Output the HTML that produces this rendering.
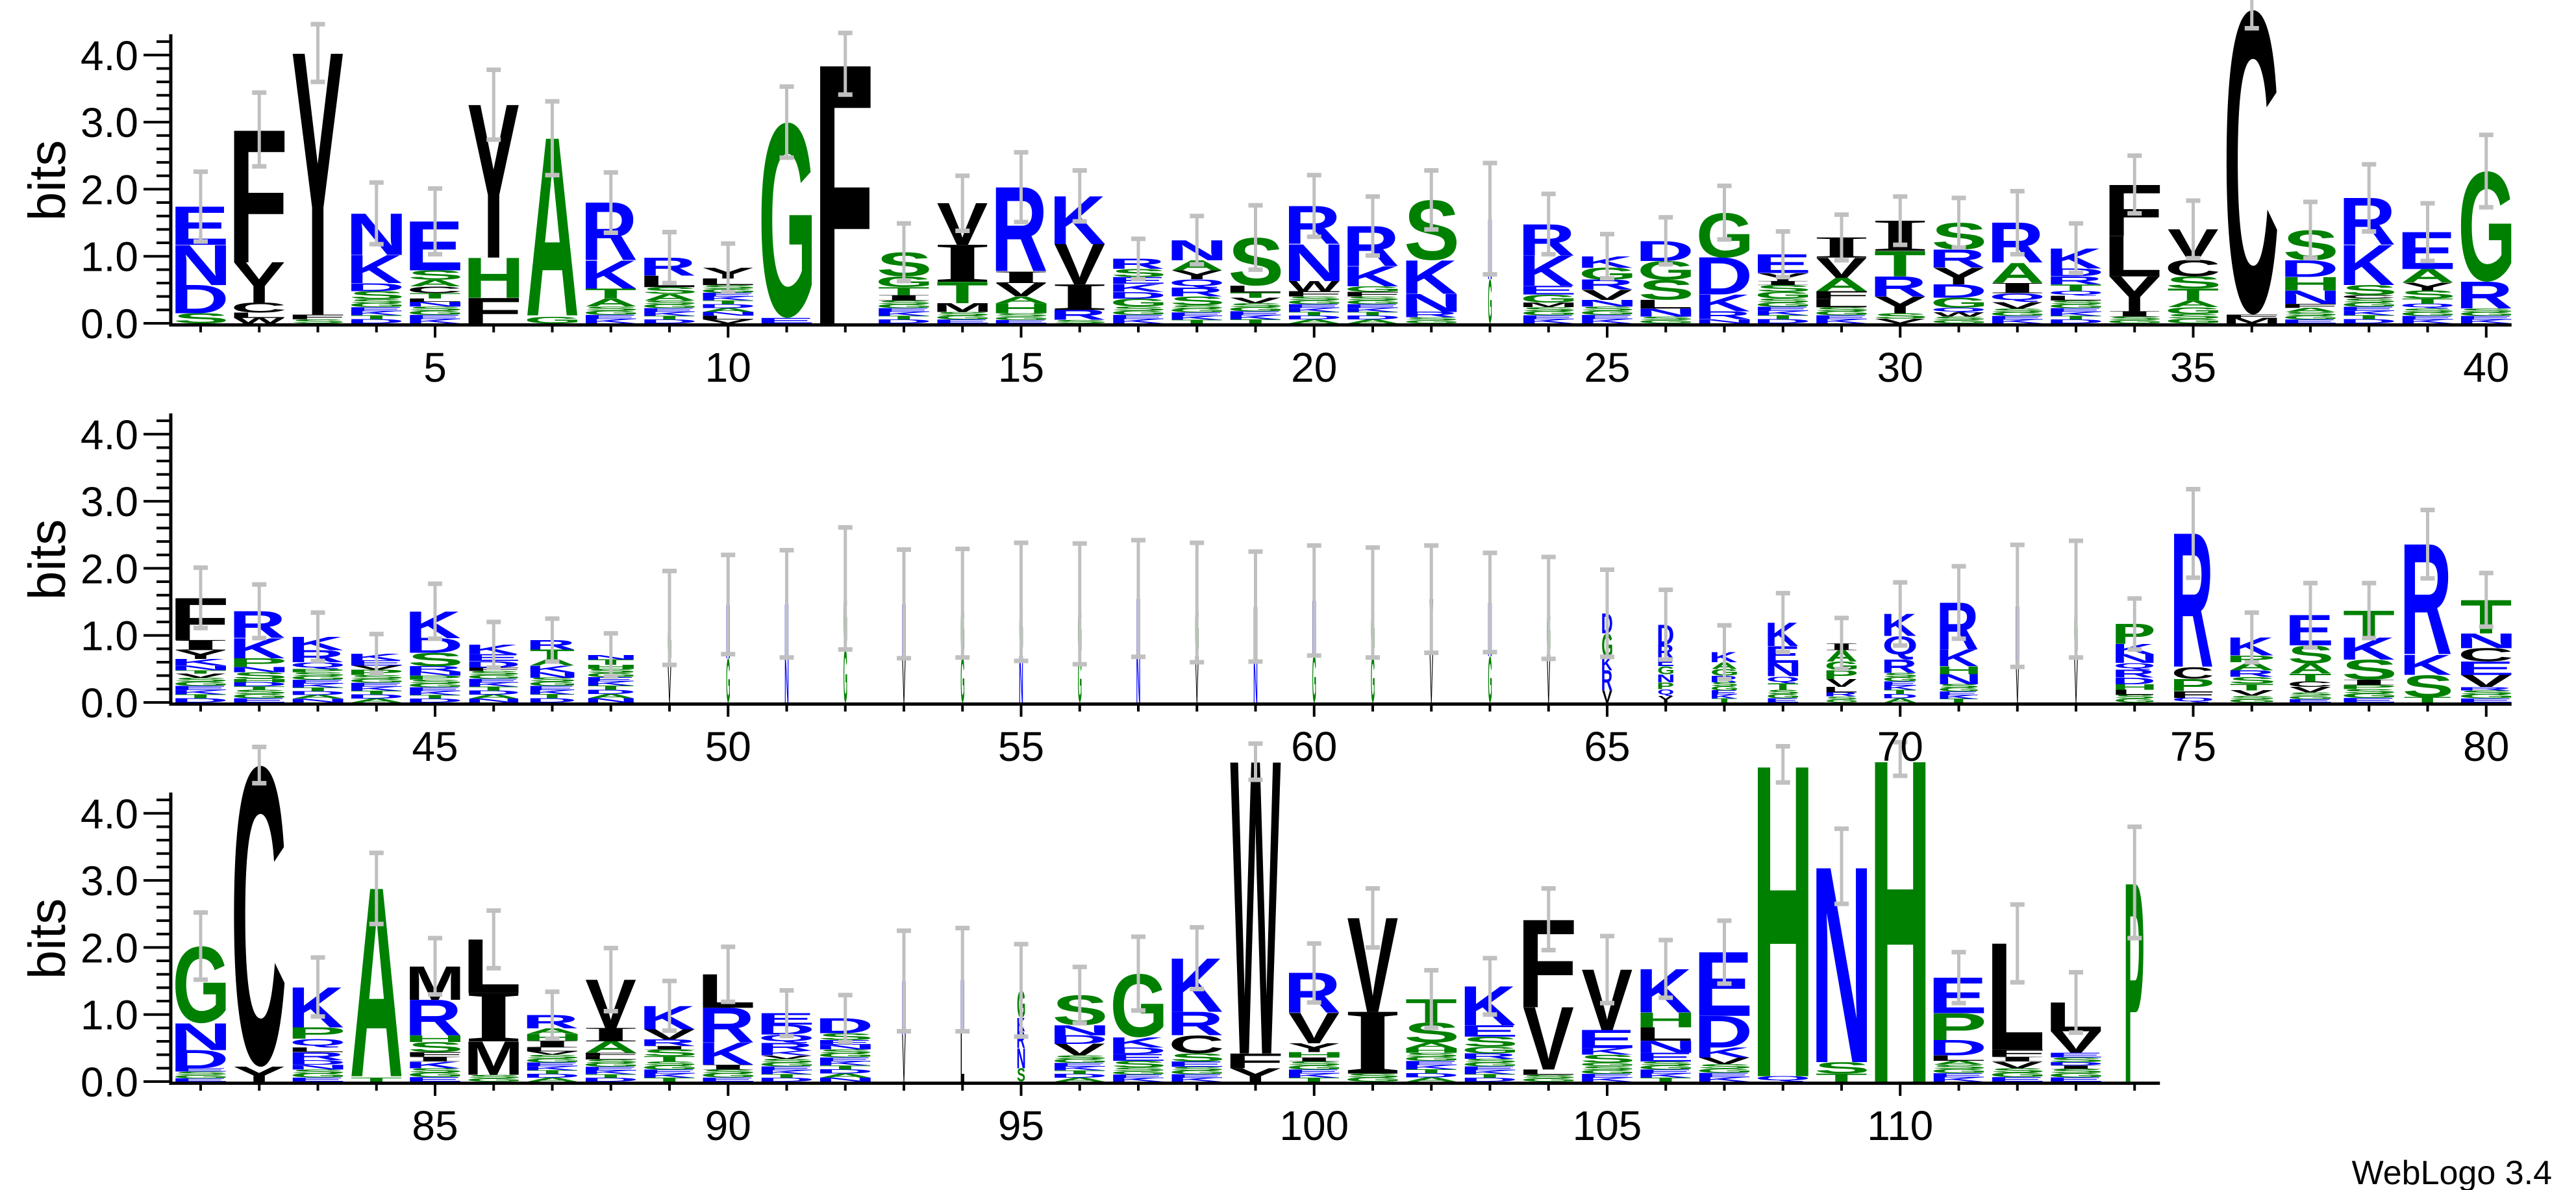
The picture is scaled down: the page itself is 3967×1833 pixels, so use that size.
<!DOCTYPE html>
<html><head><meta charset="utf-8"><style>
html,body{margin:0;padding:0;background:#fff;}
svg{display:block;}
text{font-family:"Liberation Sans",sans-serif;}
</style></head><body>
<svg id="logo" width="3967" height="1833" viewBox="0 0 3967 1833" xmlns="http://www.w3.org/2000/svg">
<rect x="0" y="0" width="3967" height="1833" fill="#fff"/>
<g id="marks"></g>
<g id="axes"></g>
<text x="3930" y="1824" font-size="52" text-anchor="end">WebLogo 3.4</text>
</svg>
<script>
// Letter stacks, listed from the top letter down. "~x" is leftover low-information residue.
const stacks = [
"E.57 N.6 D.42 S.15","F1.98 Y.6 C.15 L.08 W.08","Y3.9 F.07 ~.06","N.62 K.42 D.12 S.12 ~.36","E.73 S.14 A.1 C.1 T.08 L.05 N.07 ~.25",
"Y2.28 H.6 F.38","A2.66 G.1","R.86 K.42 T.15 A.12 ~.25","R.27 L.17 S.1 A.1 ~.34","Y.16 L.1 ~.57",
"G2.92 E.08","F3.87","S.36 G.16 T.12 I.08 ~.34","V.62 I.55 T.32 M.13 ~.17","R1.26 I.17 V.2 A.1 H.15 ~.15",
"K.72 V.6 I.38 R.15 ~.05","R.15 S.12 E.1 K.12 D.1 G.12 ~.25","N.3 A.15 Y.13 Q.13 R.13 S.13 ~.27","S.72 L.1 T.08 V.08 ~.3","R.57 N.55 W.15 F.08 ~.4",
"R.6 K.3 G.08 F.07 ~.4","S.9 K.5 N.27 R.08 ~.09","N.9 G.66","R.47 K.45 E.13 G.12 M.07 ~.24","K.17 G.18 R.15 V.15 N.1 ~.25",
"D.3 G.28 S.3 L.13 N.12 ~.1","G.67 D.55 K.25 R.12 N.06","E.28 Y.12 I.06 S.1 G.1 ~.37","I.3 V.3 A.2 F.12 L.12 ~.24","I.45 T.38 R.3 Y.25 S.08 V.07",
"S.4 R.27 Y.25 D.2 G.15 Q.07 W.06 ~.1","R.6 A.3 I.15 Q.13 V.1 ~.22","K.3 D.12 R.12 T.1 Q.07 L.07 ~.34","F.77 L.6 Y.52 I.08 ~.1","V.45 C.25 S.18 T.18 A.1 G.1 ~.14",
"C4.55 F.05 M.08","S.45 D.25 H.2 N.2 F.06 A.06 ~.17","R.7 K.6 S.15 C.05 ~.37","E.55 A.2 Y.12 S.12 T.08 Q.07 ~.22","G1.65 R.4 ~.22",
"F.63 I.15 Y.13 K.1 N.07 T.05 V.06 ~.37","R.4 K.3 P.13 N.08 S.1 H.05 D.06 T.05 ~.19","K.2 R.18 Q.1 P.05 ~.45","K.1 E.08 V.06 P.08 ~.41","K.4 D.22 S.2 R.08 N.06 P.06 ~.34",
"K.14 E.1 D.1 F.05 ~.47","R.14 T.14 A.1 K.1 N.08 ~.37","N.07 T.08 H.06 ~.5","G.7 V.56","N.8 G.66",
"N.8 N.67","G.9 G.8","N.8 V.67","G.8 G.68","G.8 N.7",
"G.8 G.67","N.8 N.75","G.8 V.69","N.8 N.63","N.8 G.72",
"G.8 G.69","V.8 V.74","N.8 G.69","G.7 V.71","D.3 G.35 K.2 R.3 V.18",
"D.3 R.2 E.12 G.12 N.12 P.1 Q.1 Y.1","K.15 A.1 G.1 R.1 ~.3","K.35 E.25 N.2 Q.1 T.1 ~.19","I.1 A.17 G.13 P.13 V.12 L.08 R.06 ~.09","K.33 Q.35 R.2 ~.44",
"R.7 K.25 H.12 N.15 ~.27","N.8 V.64","G.9 V.64","P.3 K.15 N.13 Q.1 R.12 D.1 H.08 L.08 ~.11","R2.0 C.17 P.18 F.1 Q.07",
"K.27 P.1 A.12 R.1 S.1 T.1 V.08 ~.1","E.45 S.27 A.15 T.12 C.08 V.08 ~.15","T.4 K.33 S.3 I.08 P.06 ~.2","R1.65 K.3 S.33 T.08","T.5 N.22 C.2 E.2 V.18 R.05 ~.18",
"G1.15 N.4 D.27 E.05 ~.15","C4.5 Y.22","K.6 P.17 Q.13 L.07 R.12 D.07 N.07 ~.18","A2.82 T.06","M.5 R.53 H.1 S.15 F.07 I.07 K.1 ~.2",
"L.8 I.72 M.5 ~.1","R.2 A.08 H.1 I.1 L.06 V.05 ~.4","V.72 I.2 A.17 F.05 L.05 ~.33","K.35 V.15 R.1 I.05 S.1 T.08 ~.3","L.5 R.52 K.33 I.07 ~.18",
"E.17 D.15 Q.12 R.12 K.07 V.05 ~.34","D.22 S.1 E.07 N.07 ~.48","N.8 V.7","N.8 L.72","G.41 K.2 R.25 N.3 S.2",
"S.45 N.15 D.13 V.17 ~.39","G.95 K.15 D.1 E.1 S.1 ~.21","K.8 R.35 C.27 S.12 E.08 ~.22","W4.35 F.22 Y.2","R.6 V.45 Y.13 H.08 I.06 ~.3",
"V1.4 I.92 ~.12","T.35 S.3 A.08 H.07 ~.43","K.58 E.17 S.15 G.1 R.08 ~.34","F1.31 V.93 L.08 ~.1","V.9 E.27 K.1 S.12 G.05 ~.23",
"K.65 H.22 L.2 N.18 E.13 ~.3","E.95 D.47 K.15 V.1 ~.26","H4.65 Q.08","N2.92 S.17 T.12","H4.81",
"E.53 P.4 D.23 L.08 A.06 ~.25","L1.58 F.11 I.07 V.1 ~.2","L.43 V.32 E.07 S.07 D.05 I.05 ~.19","P2.97"
];
// Error bar half-lengths (bits)
const errs = [
.52,.55,.43,.46,.49,.52,.55,.45,.38,.36,.53,.46,.43,.41,.52,.38,.3,.36,.48,.46,
.44,.44,.83,.45,.33,.35,.4,.34,.34,.36,.37,.47,.37,.43,.43,.28,.42,.5,.43,.54,
.45,.4,.36,.29,.41,.34,.32,.32,.7,.74,.8,.91,.81,.81,.88,.9,.87,.89,.82,.82,
.82,.8,.74,.76,.65,.52,.4,.44,.38,.47,.54,.91,.87,.38,.66,.37,.48,.41,.51,.4,
.5,.27,.44,.53,.42,.43,.35,.47,.37,.41,.34,.35,.75,.77,.69,.42,.55,.46,.27,.44,
.44,.43,.42,.46,.5,.43,.47,.27,.56,.25,.38,.58,.45,.83
];
// Column weight (fraction of full letter width)
const weights = [
1,1,1,1,1,1,1,1,1,1,1,1,1,1,1,1,1,1,1,1,
1,1,.07,1,1,1,1,1,1,1,1,1,1,1,1,1,1,1,1,1,
1,1,1,1,1,.97,.87,.9,.07,.07,.07,.07,.07,.07,.07,.07,.07,.07,.07,.07,
.07,.07,.07,.07,.2,.3,.5,.6,.6,.63,.75,.07,.07,.75,.76,.85,.82,1,.92,1,
1,1,1,1,1,1,1,1,1,1,1,1,.07,.07,.15,1,1,1,1,1,
1,1,1,1,1,1,1,1,1,1,1,1,1,.35
];
const rowStarts = [1, 41, 81];
const rowCounts = [40, 40, 34];
const yTicks = [0,1,2,3,4];
const xLabelEvery = 5;

const NS = "http://www.w3.org/2000/svg";
const U = 103.3, X0 = 309, DX = 90.25, FULLW = 78, AXX = 263;
const rowBase = r => 498 + r * 584;
const xPos = i => X0 + i * DX;
const yVal = (r, v) => rowBase(r) - v * U;
const colorOf = c => "DEKRNQ".includes(c) ? "#0000ff" : ("GSTAHP".includes(c) ? "#008000" : "#000000");
const fontOf = c => c === "I" ? '"Liberation Serif", serif' : '"Liberation Sans", sans-serif';

const cv = document.createElement("canvas").getContext("2d");
const metricCache = {};
function metric(c) {
  if (!metricCache[c]) {
    cv.font = 'bold 200px ' + fontOf(c);
    const m = cv.measureText(c);
    metricCache[c] = {L: m.actualBoundingBoxLeft, R: m.actualBoundingBoxRight, A: m.actualBoundingBoxAscent, D: m.actualBoundingBoxDescent};
  }
  return metricCache[c];
}
const marks = document.getElementById("marks");
const axes = document.getElementById("axes");
function mk(tag, attrs, parent) {
  const e = document.createElementNS(NS, tag);
  for (const k in attrs) e.setAttribute(k, attrs[k]);
  parent.appendChild(e);
  return e;
}
function drawLetter(c, xl, yb, w, h, parent) {
  if (h <= 0.3) return;
  const m = metric(c);
  const iw = m.L + m.R, ih = m.A + m.D;
  const t = mk("text", {x: m.L, y: -m.D, "font-size": 200, "font-weight": "bold", fill: colorOf(c),
    style: "font-family:" + fontOf(c),
    transform: `translate(${xl},${yb}) scale(${w/iw},${h/ih})`}, parent);
  
  
  t.textContent = c;
}
function parseStack(s) {
  const out = [];
  const filler = "SGEKTDANLVRQ";
  let fi = 0;
  s.split(" ").forEach(tok => {
    if (tok[0] === "~") {
      const v = parseFloat(tok.slice(1));
      const n = Math.max(1, Math.round(v / 0.06));
      for (let k = 0; k < n; k++) { out.push([filler[fi % filler.length], v / n]); fi++; }
    } else out.push([tok[0], parseFloat(tok.slice(1))]);
  });
  return out;
}

for (let r = 0; r < 3; r++) {
  const y0 = rowBase(r);
  const n = rowCounts[r];
  const xEnd = xPos(n - 1) + 39;
  const gRow = mk("g", {}, marks);
  
  
  const bars = [];
  for (let i = 0; i < n; i++) {
    const p = rowStarts[r] + i;
    const items = parseStack(stacks[p - 1]);
    const w = FULLW * weights[p - 1];
    const xc = xPos(i);
    const col = mk("g", {}, gRow);
    
    
    let total = items.reduce((a, b) => a + b[1], 0);
    let acc = 0;
    for (let k = items.length - 1; k >= 0; k--) {
      const [c, v] = items[k];
      const yb = yVal(r, acc);
      drawLetter(c, xc - w / 2, yb, w, v * U, col);
      acc += v;
    }
    bars.push([xc, total, errs[p - 1]]);
  }
  bars.forEach(([xc, tot, e], i) => {
    const g = mk("g", {stroke: "#c0c0c0", "stroke-width": 5, fill: "none"}, gRow);
    
    
    const yt = yVal(r, tot + e), ybt = yVal(r, Math.max(0, tot - e));
    mk("line", {x1: xc, x2: xc, y1: yt, y2: ybt}, g);
    mk("line", {x1: xc - 11, x2: xc + 11, y1: yt, y2: yt, "stroke-width": 7}, g);
    mk("line", {x1: xc - 11, x2: xc + 11, y1: ybt, y2: ybt, "stroke-width": 7}, g);
  });
  const ga = mk("g", {}, axes);
  
  
  const ya = mk("line", {x1: AXX, x2: AXX, y1: yVal(r, 4.31), y2: y0 + 5, stroke: "#000", "stroke-width": 5}, ga);
  
  
  const xa = mk("line", {x1: AXX - 2, x2: xEnd, y1: y0 + 2.5, y2: y0 + 2.5, stroke: "#000", "stroke-width": 5}, ga);
  
  
  for (let k = 0; k <= 21; k++) {
    const v = k * 0.2;
    const major = k % 5 === 0;
    const yy = yVal(r, v);
    mk("line", {x1: major ? 221 : 241, x2: AXX, y1: yy, y2: yy, stroke: "#000", "stroke-width": 4}, ga);
  }
  yTicks.forEach(v => {
    const t = mk("text", {x: 213, y: yVal(r, v) + 23, "font-size": 64, "text-anchor": "end"}, ga);
    
    
    t.textContent = v.toFixed(1);
  });
  const bl = mk("text", {x: 0, y: 0, "font-size": 80, "text-anchor": "middle", transform: `translate(100,${y0 - 220}) rotate(-90)`}, ga);
  
  
  bl.textContent = "bits";
  for (let i = 0; i < n; i++) {
    const p = rowStarts[r] + i;
    const xc = xPos(i);
    const long = p % xLabelEvery === 0;
    mk("line", {x1: xc, x2: xc, y1: y0 + 4, y2: y0 + (long ? 22 : 14), stroke: "#000", "stroke-width": 4}, ga);
    if (long) {
      const t = mk("text", {x: xc, y: y0 + 90, "font-size": 64, "text-anchor": "middle"}, ga);
      
      
      t.textContent = String(p);
    }
  }
}
</script>
</body></html>
